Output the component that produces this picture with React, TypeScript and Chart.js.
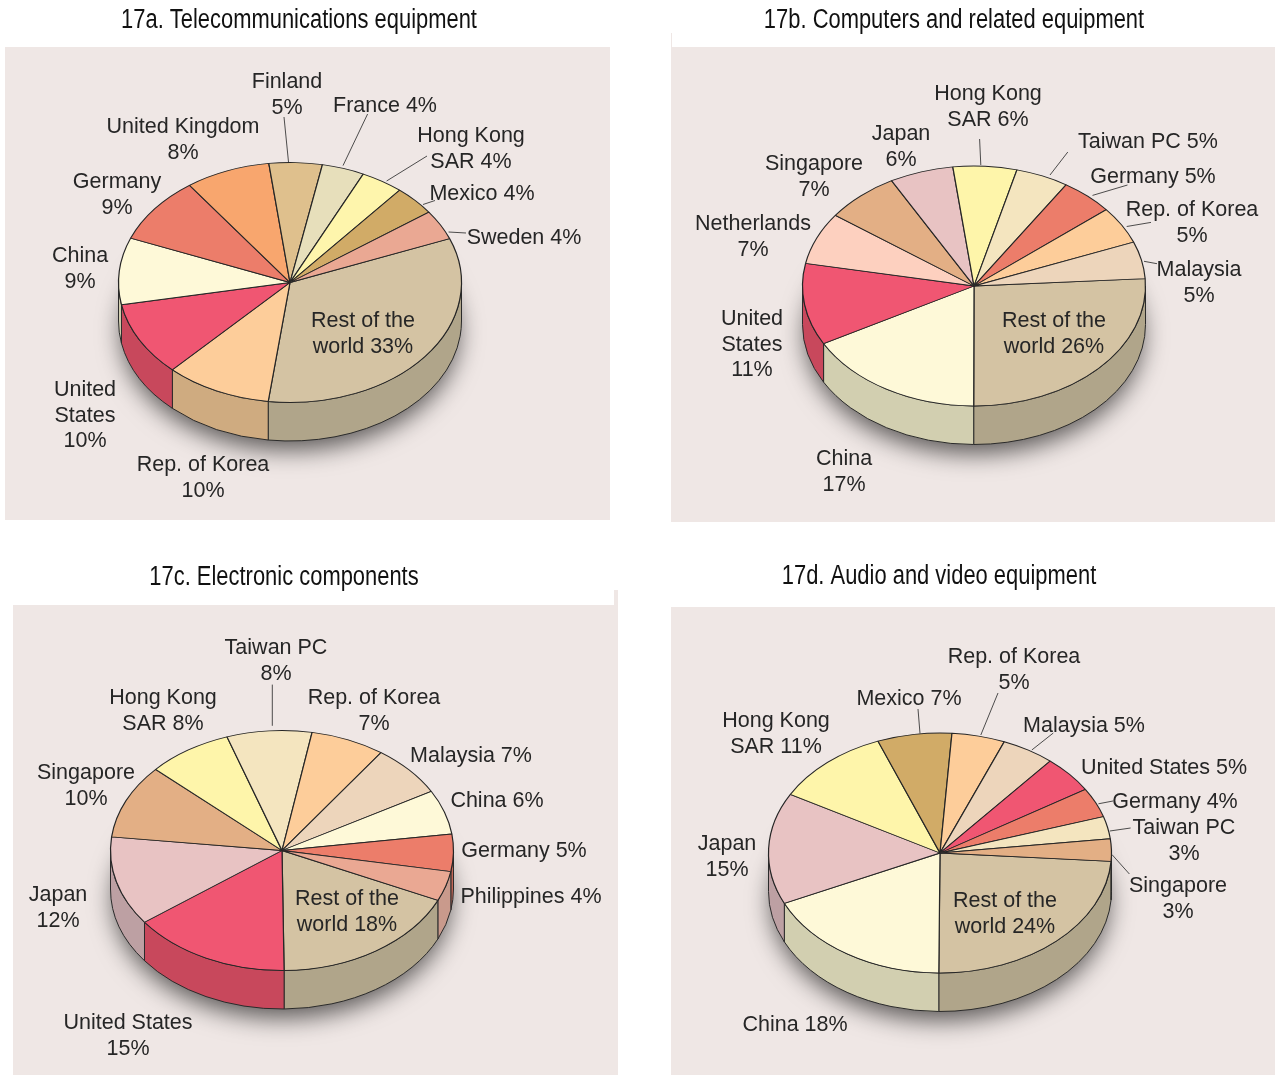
import React, { useEffect, useRef } from "react";
import { Chart, registerables } from "chart.js";

Chart.register(...registerables);

// ---------- data ----------
const titleA = "17a. Telecommunications equipment";
const categoriesA = ["Rest of the world", "Rep. of Korea", "United States", "China", "Germany", "United Kingdom", "Finland", "France", "Hong Kong SAR", "Mexico", "Sweden"];
const valuesA = [33, 10, 10, 9, 9, 8, 5, 4, 4, 4, 4];
const linesA = [["Rest of the", "world 33%"], ["Rep. of Korea", "10%"], ["United", "States", "10%"], ["China", "9%"], ["Germany", "9%"], ["United Kingdom", "8%"], ["Finland", "5%"], ["France 4%"], ["Hong Kong", "SAR 4%"], ["Mexico 4%"], ["Sweden 4%"]];
const colorsA = ["#d4c3a3", "#fdcd9a", "#f05672", "#fef9d8", "#ec7d6a", "#f8a66e", "#dfc08d", "#e7dfbb", "#fef5ac", "#d1ab67", "#eaa893"];

const titleB = "17b. Computers and related equipment";
const categoriesB = ["Rest of the world", "China", "United States", "Netherlands", "Singapore", "Japan", "Hong Kong SAR", "Taiwan PC", "Germany", "Rep. of Korea", "Malaysia"];
const valuesB = [26, 17, 11, 7, 7, 6, 6, 5, 5, 5, 5];
const linesB = [["Rest of the", "world 26%"], ["China", "17%"], ["United", "States", "11%"], ["Netherlands", "7%"], ["Singapore", "7%"], ["Japan", "6%"], ["Hong Kong", "SAR 6%"], ["Taiwan PC 5%"], ["Germany 5%"], ["Rep. of Korea", "5%"], ["Malaysia", "5%"]];
const colorsB = ["#d4c3a3", "#fef9d8", "#f05672", "#fdd0bf", "#e3af85", "#e8c3c3", "#fef5aa", "#f4e5bf", "#ec7d6a", "#fdcd9a", "#edd5bb"];

const titleC = "17c. Electronic components";
const categoriesC = ["Rest of the world", "United States", "Japan", "Singapore", "Hong Kong SAR", "Taiwan PC", "Rep. of Korea", "Malaysia", "China", "Germany", "Philippines"];
const valuesC = [18, 15, 12, 10, 8, 8, 7, 7, 6, 5, 4];
const linesC = [["Rest of the", "world 18%"], ["United States", "15%"], ["Japan", "12%"], ["Singapore", "10%"], ["Hong Kong", "SAR 8%"], ["Taiwan PC", "8%"], ["Rep. of Korea", "7%"], ["Malaysia 7%"], ["China 6%"], ["Germany 5%"], ["Philippines 4%"]];
const colorsC = ["#d4c3a3", "#f05672", "#e8c3c3", "#e3af85", "#fef5aa", "#f4e5bf", "#fdcd9a", "#edd5bb", "#fef9d8", "#ec7d6a", "#eaa893"];

const titleD = "17d. Audio and video equipment";
const categoriesD = ["Rest of the world", "China", "Japan", "Hong Kong SAR", "Mexico", "Rep. of Korea", "Malaysia", "United States", "Germany", "Taiwan PC", "Singapore"];
const valuesD = [24, 18, 15, 11, 7, 5, 5, 5, 4, 3, 3];
const linesD = [["Rest of the", "world 24%"], ["China 18%"], ["Japan", "15%"], ["Hong Kong", "SAR 11%"], ["Mexico 7%"], ["Rep. of Korea", "5%"], ["Malaysia 5%"], ["United States 5%"], ["Germany 4%"], ["Taiwan PC", "3%"], ["Singapore", "3%"]];
const colorsD = ["#d4c3a3", "#fef9d8", "#e8c3c3", "#fef5aa", "#d1ab67", "#fdcd9a", "#edd5bb", "#f05672", "#ec7d6a", "#f4e5bf", "#e3af85"];

const sideColors: Record<string, string> = {
  "Rest of the world": "#b0a58a",
  "Rep. of Korea": "#cfab80",
  "United States": "#c8485c",
  China: "#d2cfb0",
  Japan: "#bda0a3",
  Philippines: "#c99a8c",
};

// ---------- layout (not data) ----------
const PANEL_BG = "#efe7e5";
const TEXT = "#262626";
const LABEL_FONT = '21.5px "Liberation Sans", Arial, sans-serif';
const TITLE_FONT = '27px "Liberation Sans", sans-serif';
const TITLE_SQUEEZE = 0.812;
const LINE_H = 25.7;
const LABEL_DY = 1;
const RX = 171.5;
const RY = 120;
const DEPTH = 38.5;

const layouts = [
  {
    title: titleA, categories: categoriesA, values: valuesA, colors: colorsA, lines: linesA,
    box: [0, 0, 640, 540], panel: [[5, 47, 605, 473]], center: [290, 282.5], rotation: 68.5, titleAt: [299, 21],
    spots: [[363, 320], [203, 464], [85, 389], [80, 255], [117, 181], [183, 126], [287, 81], [385, 105], [471, 135], [482, 193], [524, 237]],
    leaders: [[284, 117, 288.5, 162], [367.6, 114, 343, 165.6], [427, 156, 386.6, 181], [435, 200.5, 423, 204.5], [448.6, 232, 466, 233]],
  },
  {
    title: titleB, categories: categoriesB, values: valuesB, colors: colorsB, lines: linesB,
    box: [640, 0, 635, 540], panel: [[671, 47, 604, 475], [671, 33, 1, 14]], center: [974, 286], rotation: 86.5, titleAt: [954, 21],
    spots: [[1054, 320], [844, 458], [752, 318], [753, 223], [814, 163], [901, 133], [988, 93], [1148, 141], [1153, 176], [1192, 209], [1199, 269]],
    leaders: [[979.6, 139, 980.8, 165], [1067.8, 152, 1050, 175], [1127.5, 185, 1092.5, 195.4], [1151, 222.4, 1126.7, 226.5], [1157, 263.7, 1144, 261.3]],
  },
  {
    title: titleC, categories: categoriesC, values: valuesC, colors: colorsC, lines: linesC,
    box: [0, 540, 640, 535], panel: [[13, 605, 605, 470], [614, 590, 4, 15]], center: [282, 850.5], rotation: 114.5, titleAt: [284, 578],
    spots: [[347, 898], [128, 1022], [58, 894], [86, 772], [163, 697], [276, 647], [374, 697], [471, 755], [497, 800], [524, 850], [531, 896]],
    leaders: [[272.3, 684.6, 272.3, 725.8]],
  },
  {
    title: titleD, categories: categoriesD, values: valuesD, colors: colorsD, lines: linesD,
    box: [640, 540, 635, 535], panel: [[671, 607, 604, 468]], center: [940, 853], rotation: 94, titleAt: [939, 577],
    spots: [[1005, 900], [795, 1024], [727, 843], [776, 720], [909, 698], [1014, 656], [1084, 725], [1164, 767], [1175, 801], [1184, 827], [1178, 885]],
    leaders: [[918, 709, 920, 733.5], [998, 693, 980.8, 735], [1053.3, 733, 1031.8, 750], [1113, 801, 1098.4, 803.8], [1130.6, 828, 1109.8, 831], [1129.4, 874, 1112, 854.6]],
  },
];

type Layout = (typeof layouts)[number];

function darken(hex: string) {
  const n = parseInt(hex.slice(1), 16);
  const c = (s: number) => Math.round(((n >> s) & 255) * 0.82);
  return `rgb(${c(16)},${c(8)},${c(0)})`;
}

function makePie3d(l: Layout) {
  const [bx, by] = l.box;
  return {
    id: "pie3d",
    beforeDraw(chart: any) {
      const ctx = chart.ctx;
      ctx.save();
      ctx.fillStyle = PANEL_BG;
      for (const [x, y, w, h] of l.panel) ctx.fillRect(x - bx, y - by, w, h);
      ctx.restore();
    },
    beforeDatasetsDraw(chart: any) {
      const ctx = chart.ctx;
      const arcs = chart.getDatasetMeta(0).data;
      const { x: cx, y: cy, outerRadius: rx } = arcs[0].getProps(["x", "y", "outerRadius"], true);
      const ry = rx * (RY / RX);

      // soft cast shadow under the cylinder
      ctx.save();
      ctx.shadowColor = "rgba(0,0,0,0.62)";
      ctx.shadowBlur = 24;
      ctx.shadowOffsetY = 11;
      ctx.fillStyle = "#777";
      ctx.beginPath();
      ctx.ellipse(cx, cy + DEPTH, rx - 3, ry - 2, 0, 0, Math.PI * 2);
      ctx.fill();
      ctx.restore();

      // side wall of every slice that faces the viewer
      ctx.save();
      ctx.lineWidth = 1;
      ctx.strokeStyle = "#2b2b2b";
      arcs.forEach((arc: any, i: number) => {
        const { startAngle, endAngle } = arc.getProps(["startAngle", "endAngle"], true);
        for (let k = -1; k <= 1; k++) {
          const a0 = Math.max(startAngle, k * 2 * Math.PI);
          const a1 = Math.min(endAngle, k * 2 * Math.PI + Math.PI);
          if (a1 <= a0) continue;
          ctx.beginPath();
          ctx.ellipse(cx, cy, rx, ry, 0, a0, a1);
          ctx.ellipse(cx, cy + DEPTH, rx, ry, 0, a1, a0, true);
          ctx.closePath();
          ctx.fillStyle = sideColors[l.categories[i]] ?? darken(l.colors[i]);
          ctx.fill();
          ctx.stroke();
        }
      });
      ctx.restore();

      // squash the library's arcs into the tilted top face
      ctx.save();
      ctx.translate(cx, cy);
      ctx.scale(1, ry / rx);
      ctx.translate(-cx, -cy);
    },
    afterDatasetsDraw(chart: any) {
      const ctx = chart.ctx;
      ctx.restore();

      ctx.save();
      ctx.strokeStyle = "#3a3a3a";
      ctx.lineWidth = 0.9;
      for (const [x1, y1, x2, y2] of l.leaders) {
        ctx.beginPath();
        ctx.moveTo(x1 - bx, y1 - by);
        ctx.lineTo(x2 - bx, y2 - by);
        ctx.stroke();
      }
      ctx.fillStyle = TEXT;
      ctx.textAlign = "center";
      ctx.textBaseline = "middle";
      ctx.font = LABEL_FONT;
      l.lines.forEach((rows, i) => {
        const [x, y] = l.spots[i];
        rows.forEach((row, j) => ctx.fillText(row, x - bx, y - by + LABEL_DY + j * LINE_H));
      });
      ctx.fillStyle = "#111";
      ctx.font = TITLE_FONT;
      ctx.translate(l.titleAt[0] - bx, l.titleAt[1] - by);
      ctx.scale(TITLE_SQUEEZE, 1);
      ctx.fillText(l.title, 0, 0);
      ctx.restore();
    },
  };
}

function Panel({ l }: { l: Layout }) {
  const ref = useRef<HTMLCanvasElement>(null);
  useEffect(() => {
    const [bx, by, bw, bh] = l.box;
    const half = 180;
    const lx = l.center[0] - bx;
    const ly = l.center[1] - by;
    const chart = new Chart(ref.current!, {
      type: "pie",
      data: {
        labels: l.categories,
        datasets: [
          {
            data: l.values,
            backgroundColor: l.colors,
            borderColor: "#262626",
            borderWidth: 1.2,
            radius: RX,
            clip: false,
          } as any,
        ],
      },
      options: {
        responsive: false,
        animation: false,
        rotation: l.rotation,
        layout: { padding: { left: lx - half, right: bw - lx - half, top: ly - half, bottom: bh - ly - half } },
        plugins: { legend: { display: false }, tooltip: { enabled: false }, title: { display: false } },
      },
      plugins: [makePie3d(l)],
    } as any);
    return () => chart.destroy();
  }, [l]);
  const [bx, by, bw, bh] = l.box;
  return <canvas ref={ref} width={bw} height={bh} style={{ position: "absolute", left: bx, top: by, width: bw, height: bh, display: "block" }} />;
}

export default function App() {
  return (
    <div style={{ position: "absolute", left: 0, top: 0, width: 1275, height: 1075, overflow: "hidden", background: "#fff" }}>
      {layouts.map((l) => (
        <Panel key={l.title} l={l} />
      ))}
    </div>
  );
}
